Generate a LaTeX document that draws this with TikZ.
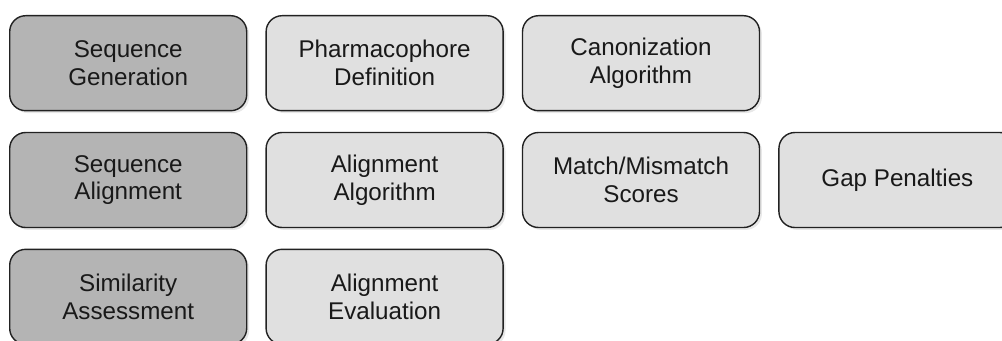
\documentclass[tikz,border=0pt]{standalone}
\usepackage{fontspec}
\setmainfont{Liberation Sans}
\usepackage{xcolor}
\usepackage{tikz}
\usetikzlibrary{positioning, shadows}
\definecolor{stagegray}{HTML}{B4B4B4}
\definecolor{paramgray}{HTML}{E0E0E0}
\definecolor{edgegray}{HTML}{222222}
\tikzstyle{box}   = [rectangle, draw=edgegray, line width=1pt, rounded corners=0.4cm,
                     minimum width=5.925cm, minimum height=2.375cm, align=center,
                     font=\fontsize{17.2}{19.7}\selectfont, text=black!90,
                     drop shadow={shadow xshift=0.06cm, shadow yshift=-0.06cm, opacity=0.18}]
\tikzstyle{stage} = [box, fill=stagegray]
\tikzstyle{param} = [box, fill=paramgray]
\begin{document}
\begin{tikzpicture}[node distance=0.51cm and 0.45cm]
  \useasboundingbox (0,0) rectangle (25.05,-8.525);

  % Pipeline stages
  \node[stage, anchor=north west] (gen) at (0.225,-0.375) {Sequence\\Generation};
  \node[stage, below=of gen] (aln) {Sequence\\Alignment};
  \node[stage, below=of aln] (sim) {Similarity\\Assessment};

  % Parameters of each stage
  \node[param, right=of gen]   (pharm) {Pharmacophore\\Definition};
  \node[param, right=of pharm] (canon) {Canonization\\Algorithm};
  \node[param, right=of aln]   (algo)  {Alignment\\Algorithm};
  \node[param, right=of algo]  (score) {Match/Mismatch\\Scores};
  \node[param, right=of score] (gap)   {Gap Penalties};
  \node[param, right=of sim]   (eval)  {Alignment\\Evaluation};
\end{tikzpicture}
\end{document}
